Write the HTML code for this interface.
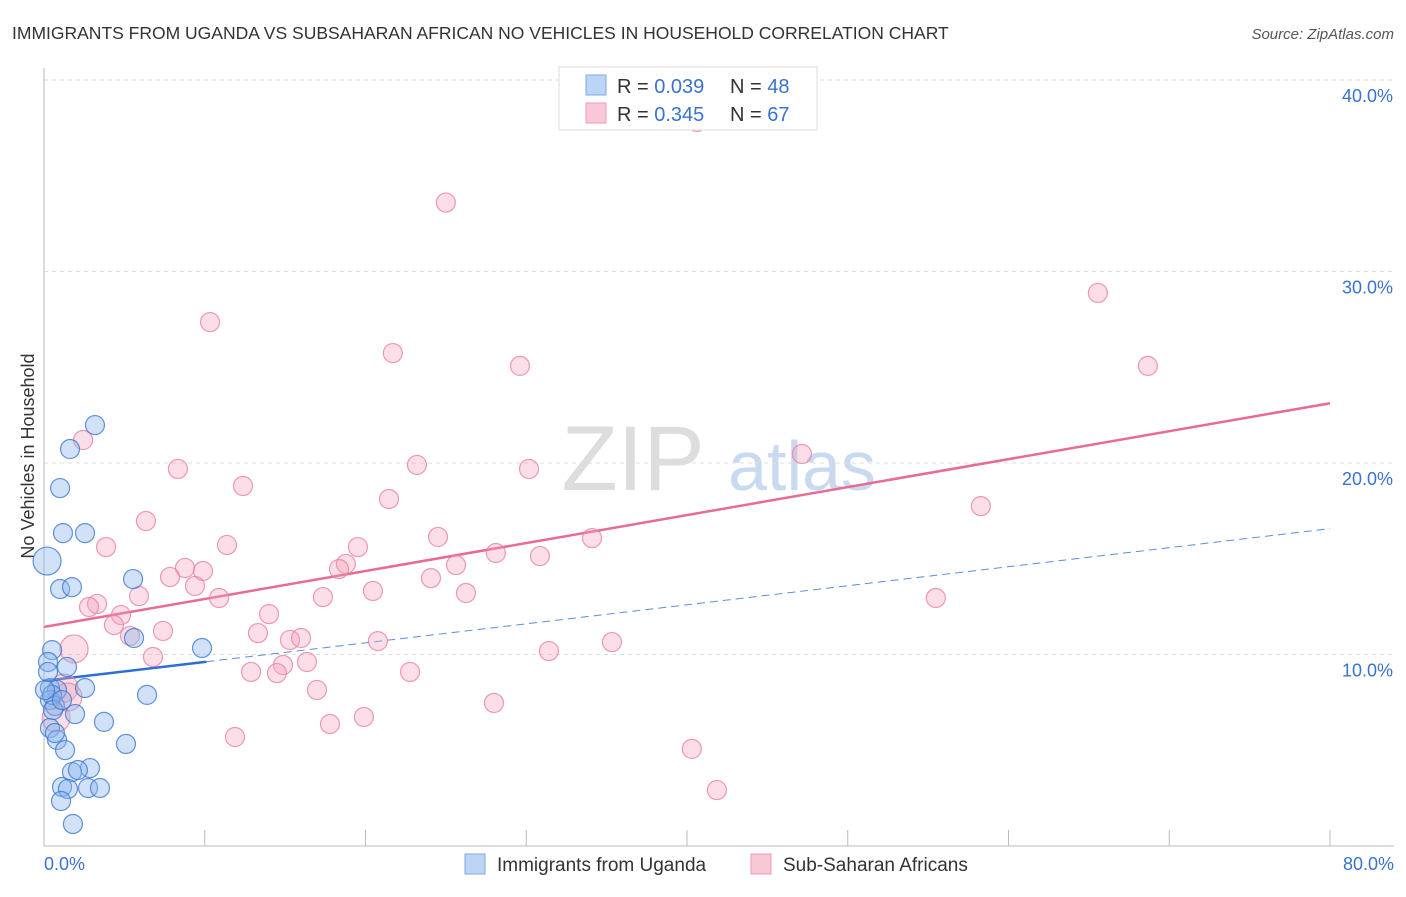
<!DOCTYPE html>
<html><head><meta charset="utf-8"><style>
body{margin:0;background:#fff;font-family:"Liberation Sans",sans-serif;}
svg text{font-family:"Liberation Sans",sans-serif;}
</style></head><body>
<svg id="chart" width="1406" height="892" xmlns="http://www.w3.org/2000/svg">
<text x="12" y="39" font-size="17.5" fill="#333">IMMIGRANTS FROM UGANDA VS SUBSAHARAN AFRICAN NO VEHICLES IN HOUSEHOLD CORRELATION CHART</text>
<text x="1394" y="39" font-size="15" fill="#555" font-style="italic" text-anchor="end">Source: ZipAtlas.com</text>
<text x="34" y="456" font-size="18" fill="#333" text-anchor="middle" transform="rotate(-90 34 456)">No Vehicles in Household</text>
<g><text x="633" y="490" font-size="92" fill="#ddd" text-anchor="middle" font-family="Liberation Serif,serif">ZIP</text><text x="802" y="490" font-size="70" fill="#c9d9f0" text-anchor="middle">atlas</text></g>
<g id="grid"></g><g id="axes"></g><g id="lines"></g><g id="pts"></g>
<g>
<rect x="559" y="67" width="258" height="63" fill="#fff" stroke="#ddd"/>
<rect x="586" y="75" width="20" height="20" fill="#bcd4f5" stroke="#7fa8e0"/>
<rect x="586" y="103" width="20" height="20" fill="#f9c8d6" stroke="#eb9ab2"/>
<text x="617" y="93" font-size="20" fill="#333">R = <tspan fill="#3a72d0">0.039</tspan></text>
<text x="730" y="93" font-size="20" fill="#333">N = <tspan fill="#3a72d0">48</tspan></text>
<text x="617" y="121" font-size="20" fill="#333">R = <tspan fill="#3a72d0">0.345</tspan></text>
<text x="730" y="121" font-size="20" fill="#333">N = <tspan fill="#3a72d0">67</tspan></text>
</g>
<g>
<rect x="465" y="854" width="20" height="20" fill="#bcd4f5" stroke="#7fa8e0"/>
<text x="497" y="871" font-size="19" fill="#333">Immigrants from Uganda</text>
<rect x="751" y="854" width="20" height="20" fill="#f9c8d6" stroke="#eb9ab2"/>
<text x="783" y="871" font-size="19" fill="#333">Sub-Saharan Africans</text>
</g>
</svg>
<script>
const xTicks=[0,10,20,30,40,50,60,70,80];
const yTicks=[10,20,30,40];
const yTickLabels=["10.0%","20.0%","30.0%","40.0%"];
const xEndLabels=["0.0%","80.0%"];
const ugandaX=[3.17,1.62,1.0,1.18,2.55,0.19,1.0,1.74,5.54,5.6,9.83,0.5,0.25,1.43,0.37,0.81,2.55,6.41,0.37,0.68,1.93,3.73,0.37,0.81,1.31,5.1,2.86,1.74,2.74,1.12,1.49,3.48,1.06,1.8,0.5,0.25,0.56,1.12,0.06,0.68,2.11];
const ugandaY=[21.98,20.73,18.69,16.34,16.34,14.88,13.42,13.52,13.94,10.86,10.34,10.23,9.61,9.35,8.25,8.15,8.25,7.89,7.62,7.31,6.89,6.48,6.16,5.54,5.01,5.33,4.07,3.86,3.03,3.08,2.98,3.03,2.35,1.15,7.89,9.09,7.1,7.62,8.15,5.9,3.97];
const africaX=[40.62,25.0,10.33,21.7,65.56,29.61,68.67,2.43,8.33,23.2,30.17,47.15,12.38,21.46,58.28,6.34,3.86,11.38,24.51,34.09,19.53,18.78,28.11,30.85,8.77,9.89,7.84,18.35,25.63,24.07,9.39,5.91,10.89,20.46,26.25,17.35,55.48,3.3,4.79,2.8,14.0,4.35,7.4,5.35,13.31,15.3,15.99,20.77,35.33,1.87,6.78,31.41,16.36,14.87,12.88,14.49,22.77,1.24,16.98,1.49,27.99,0.75,19.9,17.79,11.88,40.3,41.86];
const africaY=[37.81,33.6,27.36,25.74,28.88,25.07,25.07,21.2,19.69,19.9,19.69,20.47,18.8,18.12,17.75,16.97,15.61,15.72,16.14,16.08,15.61,14.73,15.3,15.14,14.52,14.36,14.05,14.46,14.67,13.99,13.58,13.05,12.95,13.32,13.21,13.0,12.95,12.64,12.06,12.48,12.11,11.54,11.23,10.97,11.12,10.76,10.86,10.7,10.65,10.29,9.87,10.18,9.61,9.45,9.09,9.03,9.09,8.25,8.15,7.78,7.47,6.68,6.74,6.37,5.69,5.07,2.92];
const ugandaTrend=[8.62,0.0994];
const africaTrend=[11.44,0.146];
const NS="http://www.w3.org/2000/svg";
const X=v=>44+v*(1286/80), Y=v=>846-v*19.15;
function mk(t,a,p){const e=document.createElementNS(NS,t);for(const k in a)e.setAttribute(k,a[k]);document.getElementById(p).appendChild(e);return e;}
yTicks.forEach((t,i)=>{
 const l=mk('line',{x1:44,x2:1394,y1:Y(t),y2:Y(t),stroke:'#ddd','stroke-dasharray':'4,4'},'grid');
 
 
 const tx=mk('text',{x:1393,y:Y(t)+22,'font-size':18,fill:'#3a72d0','text-anchor':'end'},'axes');tx.textContent=yTickLabels[i];
 
 
});
const ax=mk('line',{x1:44,x2:1394,y1:846,y2:846,stroke:'#bbb'},'axes');


const ay=mk('line',{x1:44,x2:44,y1:68,y2:846,stroke:'#bbb'},'axes');


xTicks.forEach(t=>{const l=mk('line',{x1:X(t),x2:X(t),y1:830,y2:846,stroke:'#bbb'},'axes');
 
 });
[[0,'start',44],[80,'end',1394]].forEach((d,i)=>{const tx=mk('text',{x:d[2],y:870,'font-size':18,fill:'#3a72d0','text-anchor':d[1]},'axes');tx.textContent=xEndLabels[i];
 
 });
function pts(xs,ys,fill,stroke,name){xs.forEach((x,i)=>{const big=(name==='uganda-point'&&x<0.3&&ys[i]>14)?14:(name==='africa-point'&&x<2&&ys[i]>6)?14:9.5;
 const c=mk('circle',{cx:X(x),cy:Y(ys[i]),r:big,fill:fill,stroke:stroke,'stroke-width':1.2},'pts');
 
 });}
pts(africaX,africaY,'rgba(244,160,186,0.35)','rgba(232,130,160,0.8)','africa-point');
pts(ugandaX,ugandaY,'rgba(140,180,235,0.4)','rgba(60,120,210,0.8)','uganda-point');
const pl=mk('line',{x1:X(0),y1:Y(africaTrend[0]),x2:X(80),y2:Y(africaTrend[0]+80*africaTrend[1]),stroke:'#e86a96','stroke-width':2.5},'lines');


const bl=mk('line',{x1:X(0),y1:Y(ugandaTrend[0]),x2:X(10.1),y2:Y(ugandaTrend[0]+10.1*ugandaTrend[1]),stroke:'#2c6fd1','stroke-width':2.5},'lines');


const bd=mk('line',{x1:X(10.1),y1:Y(ugandaTrend[0]+10.1*ugandaTrend[1]),x2:X(80),y2:Y(ugandaTrend[0]+80*ugandaTrend[1]),stroke:'#5a8fd8','stroke-width':1,'stroke-dasharray':'8,5'},'lines');


</script>
</body></html>
